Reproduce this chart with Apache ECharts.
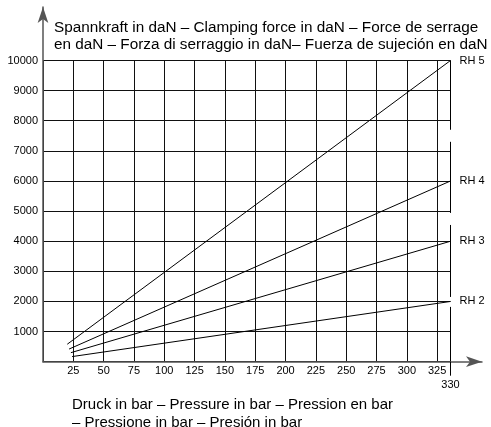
<!DOCTYPE html>
<html>
<head>
<meta charset="utf-8">
<script src="https://cdn.jsdelivr.net/npm/echarts@6/dist/echarts.min.js"></script>
<style>
  html, body { margin: 0; padding: 0; background: #fff; }
  #chartDom { width: 491px; height: 427px; }
</style>
</head>
<body>
<div id="chartDom"></div>
<script>
// data
const seriesNames = ['RH 5', 'RH 4', 'RH 3', 'RH 2']
const pressureStart = [20, 21.5, 23, 24]      // bar
const forceStart = [580, 420, 300, 170]       // daN
const pressureEnd = 336                       // right edge of the grid
const forceEnd = [10000, 6000, 4000, 2000]    // daN
const xTicks = [25, 50, 75, 100, 125, 150, 175, 200, 225, 250, 275, 300, 325]
const yTicks = [1000, 2000, 3000, 4000, 5000, 6000, 7000, 8000, 9000, 10000]
const edgeLabel = '330'
// right border is broken in a few places (daN)
const edgeBreaks = [[1820, 2150], [4540, 4940], [7300, 7700]]

const yCaption = 'Spannkraft in daN – Clamping force in daN – Force de serrage\nen daN – Forza di serraggio in daN– Fuerza de sujeción en daN'
const xCaption = 'Druck in bar – Pressure in bar – Pression en bar\n– Pressione in bar – Presión in bar'

const font = '"Liberation Sans", Arial, Helvetica, sans-serif'
const W = 491, H = 427

// plot grid and a bigger grid only for the arrows
const plot = { left: 43, right: 40.5, top: 60.5, bottom: 65.3 }
const arrows = { left: 43, right: 9, top: 7, bottom: 65.3 }
const plotW = W - plot.left - plot.right
const plotH = H - plot.top - plot.bottom
const arrW = W - arrows.left - arrows.right
const arrH = H - arrows.top - arrows.bottom
const yMax = 10000

const myChart = echarts.init(document.getElementById('chartDom'))

let series = seriesNames.map((name, i) => ({
  name: name,
  type: 'line',
  xAxisIndex: 0,
  yAxisIndex: 0,
  symbol: 'none',
  silent: true,
  lineStyle: { color: '#000', width: 1 },
  data: [[pressureStart[i], forceStart[i]], [pressureEnd, forceEnd[i]]],
  endLabel: {
    show: true,
    formatter: '{a}',
    distance: 9,
    color: '#000',
    fontSize: 11,
    fontFamily: font,
    padding: [0, 0, 6, 0]
  }
}))

// right border drawn as a broken line
let edgeData = [[pressureEnd, 0]]
edgeBreaks.forEach(b => {
  edgeData.push([pressureEnd, b[0]], [pressureEnd, '-'], [pressureEnd, b[1]])
})
edgeData.push([pressureEnd, yMax])
series.push({
  name: 'edge',
  type: 'line',
  xAxisIndex: 0,
  yAxisIndex: 0,
  symbol: 'none',
  silent: true,
  clip: false,
  lineStyle: { color: '#000', width: 1 },
  data: edgeData
})

// split lines: every x tick except the max one (border is drawn above)
let xSplitColors = xTicks.map(() => '#111')
xSplitColors.unshift('#111')
xSplitColors.push('rgba(0,0,0,0)')

let option = {
  animation: false,
  backgroundColor: '#fff',
  title: [
    {
      text: yCaption,
      left: 54, top: 19.5, padding: 0,
      textStyle: { fontSize: 15.3, fontWeight: 'normal', color: '#000', lineHeight: 17, fontFamily: font }
    },
    {
      text: xCaption,
      left: 72, top: 395.5, padding: 0,
      textStyle: { fontSize: 15, fontWeight: 'normal', color: '#000', lineHeight: 18, fontFamily: font }
    }
  ],
  grid: [
    Object.assign({ containLabel: false }, plot),
    Object.assign({ containLabel: false }, arrows)
  ],
  xAxis: [
    {
      type: 'value', gridIndex: 0,
      min: 0, max: pressureEnd, interval: 25,
      axisLine: { show: false },
      axisTick: { show: false },
      splitLine: { show: true, lineStyle: { color: xSplitColors, width: 1 } },
      axisLabel: { customValues: xTicks, margin: 4, color: '#000', fontSize: 11, fontFamily: font },
      name: edgeLabel,
      nameLocation: 'end',
      nameGap: 0,
      nameMoveOverlap: false,
      nameTextStyle: { align: 'center', verticalAlign: 'top', padding: [18, 0, 0, 0], color: '#000', fontSize: 11, fontFamily: font }
    },
    {
      type: 'value', gridIndex: 1,
      min: 0, max: pressureEnd * arrW / plotW,
      axisLine: { show: true, symbol: ['none', 'arrow'], symbolSize: [8, 16], lineStyle: { color: '#555', width: 1.5 } },
      axisTick: { show: true, customValues: [pressureEnd], length: 14, lineStyle: { color: '#000', width: 1 } },
      axisLabel: { show: false },
      splitLine: { show: false },
      z: 5
    }
  ],
  yAxis: [
    {
      type: 'value', gridIndex: 0,
      min: 0, max: yMax, interval: 1000,
      axisLine: { show: false },
      axisTick: { show: false },
      splitLine: { show: true, lineStyle: { color: '#111', width: 1 } },
      axisLabel: {
        customValues: yTicks, margin: 5, color: '#000', fontSize: 11, fontFamily: font, padding: [0, 0, 7, 0],
        formatter: (v) => String(v)
      }
    },
    {
      type: 'value', gridIndex: 1,
      min: 0, max: yMax * arrH / plotH,
      axisLine: { show: true, symbol: ['none', 'arrow'], symbolSize: [8, 16], lineStyle: { color: '#555', width: 1.5 } },
      axisTick: { show: false },
      axisLabel: { show: false },
      splitLine: { show: false },
      z: 5
    }
  ],
  series: series
}

option && myChart.setOption(option)
</script>
</body>
</html>
